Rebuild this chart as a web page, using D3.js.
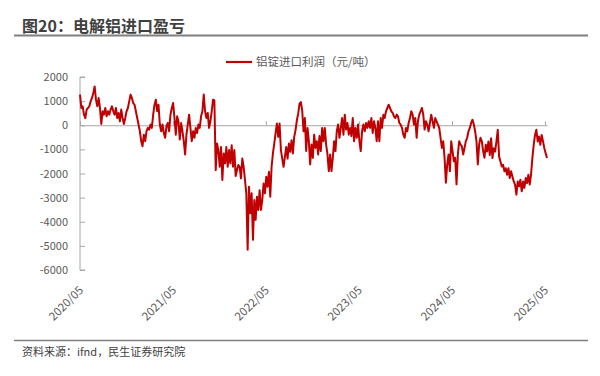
<!DOCTYPE html>
<html>
<head>
<meta charset="utf-8">
<script src="https://cdn.jsdelivr.net/npm/d3@7"></script>
<style>
  body { margin: 0; background: #fff; }
  text { font-family: "Noto Sans CJK SC", "Noto Sans", sans-serif; }
</style>
</head>
<body>
<div id="chart"></div>
<script>
const title = "图20：电解铝进口盈亏";
const seriesName = "铝锭进口利润（元/吨）";
const source = "资料来源：ifnd，民生证券研究院";

const firstDate = "2020-05-01";
const lastDate = "2025-05-09";

const yTicks = [2000, 1000, 0, -1000, -2000, -3000, -4000, -5000, -6000];
const xTickLabels = ["2020/05", "2021/05", "2022/05", "2023/05", "2024/05", "2025/05"];

const profit2020 = [
  1270, 720, 785, 440, 300, 650, 715, 785, 990, 1130,
  1335, 1610, 1060, 785, 1130, 715, 55, 580, 440, 715,
  370, 580, 440, 650, 785, 580, 440, 715, 300, 510,
  165, 650, 300, 55, 300, 580, 715, 990, 1270, 1130,
  920, 850, 580, 300, 30, -250, -660, -870, -390, -660,
  -250, -110, -180, 30, -110, 440, 850, 1060, 580, 850,
  30, -250, 30, -320, -520, -40, 95, -250, 440, 715,
  920
];
const profit2021 = [
  300, -390, 370, 165, -590, 95, -250, -660, -1210, -390,
  30, 440, -110, -660, -250, -520, -110, -320, 30, -110,
  370, 580, 1270, 580, 300, 510, -110, 165, 580, 1060,
  1030, -1860, -760, -1030, -1720, -900, -2270, -1170, -1580, -900,
  -1720, -1030, -1580, -830, -1720, -1030, -2100, -1860, -1650, -1720,
  -2200, -1380, -1720, -2270, -2820, -5160, -2550, -3650, -2820, -4750,
  -3100, -3920, -2960, -3510, -2690, -3510, -3100, -2410, -2820, -2130,
  -2550, -1930, -2960, -1720, -1170, -760, -340, 70, -480, 70,
  -1030, -1380, -1720, -1310, -900, -1380, -760, -1100, -620, -1170,
  -480, -210, 207, 480, 895, 960, 620
];
const profit2023 = [
  -250, 300, -1070, -110, -660, -1620, -800, -1350, -390, -940,
  -660, -1210, -450, -1070, -110, -660, -110, -800, -1210, -1900,
  -1210, -1900, -1350, -660, -1070, -250, 30, -520, -110, 300,
  -390, 440, -180, 95, -390, -110, -450, 300, -660, -110,
  -520, 30, -660, -1070, -250, 30, -250, 95, -110, 165,
  -110, 300, -320, 165, -110, -660, 165, -660, 300, -110,
  440, 300, 580, 715, 850, 715, 580, 510, 370, 300,
  440
];
const profit2024 = [
  370, 95, 30, -110, -390, -520, -110, -250, 95, 300,
  580, 440, 30, 300, -520, 165, 440, 580, 715, 440,
  -180, 165, 30, -250, 95, 440, 165, -110, 300, 165,
  30, -110, -520, -940, -660, -1350, -2380, -1620, -1210, -1900,
  -660, -1070, -1490, -1350, -2450, -1210, -660, -800, -870, -1210,
  -940, -660, -520, -250, -110, 95, 230, 30, -250, -660,
  -1620, -800, -520, -660, -1070, -1350
];
const profit2025 = [
  -810, -1090, -670, -1230, -540, -1360, -950, -1090, -670, -190,
  -1300, -1500, -1710, -1640, -1910, -1780, -2050, -1780, -2190, -1910,
  -2120, -2330, -2460, -2880, -2330, -2530, -2260, -2740, -2330, -2600,
  -2190, -2400, -2050, -2460, -2050, -1360, -810, -400, -190, -670,
  -470, -810, -400, -670, -950, -1160, -1360
];

const profit = [].concat(profit2020, profit2021, profit2023, profit2024, profit2025);

const W = 600, H = 376;
const plot = {left: 80, right: 547, top: 77, bottom: 270};
const red = "#c00000";
const axisGrey = "#a6a6a6";
const textGrey = "#595959";

const svg = d3.select("#chart")
  .append("svg")
  .attr("width", W)
  .attr("height", H);

// =====================
// SCALES
// =====================
const t0 = new Date(firstDate), t1 = new Date(lastDate);
const when = d3.scaleLinear()
  .domain([0, profit.length - 1])
  .range([t0.getTime(), t1.getTime()]);

const data = profit.map((v, i) => ({date: new Date(when(i)), value: v}));

const x = d3.scaleTime()
  .domain([t0, t1])
  .range([plot.left, plot.right]);

const y = d3.scaleLinear()
  .domain([-6000, 2000])
  .range([plot.bottom, plot.top]);

const tickDates = xTickLabels.map(s => d3.timeParse("%Y/%m")(s));

// =====================
// TITLE
// =====================
svg.append("text")
  .attr("x", 22)
  .attr("y", 32)
  .style("font-size", "16px")
  .style("font-weight", "bold")
  .style("fill", "#404040")
  .text(title);

svg.append("line")
  .attr("x1", 14).attr("x2", 588)
  .attr("y1", 35.5).attr("y2", 35.5)
  .attr("stroke", "#7f7f7f")
  .attr("stroke-width", 2);

// =====================
// LEGEND
// =====================
const legend = svg.append("g")
  .attr("transform", "translate(226,62)");

legend.append("line")
  .attr("x1", 0).attr("x2", 26)
  .attr("stroke", red)
  .attr("stroke-width", 2.2);

legend.append("text")
  .attr("x", 30)
  .attr("y", 4)
  .style("font-size", "11.5px")
  .style("fill", textGrey)
  .text(seriesName);

// =====================
// AXES
// =====================
const yAxis = svg.append("g")
  .attr("transform", `translate(${plot.left},0)`)
  .call(d3.axisRight(y).tickValues(yTicks).tickSize(5).tickFormat(""));

yAxis.selectAll("path, line").attr("stroke", axisGrey);
yAxis.select(".domain").attr("d", `M5,${plot.top}H0V${plot.bottom}H5`);

svg.append("g")
  .selectAll("text")
  .data(yTicks)
  .join("text")
  .attr("x", 68)
  .attr("y", d => y(d) + 4)
  .attr("text-anchor", "end")
  .style("font-size", "11px")
  .style("fill", textGrey)
  .text(d => d);

const xAxis = svg.append("g")
  .attr("transform", `translate(0,${y(0)})`)
  .call(d3.axisTop(x).tickValues(tickDates).tickSize(4).tickSizeOuter(0).tickFormat(""));

xAxis.selectAll("path, line").attr("stroke", axisGrey);

svg.append("g")
  .selectAll("text")
  .data(tickDates)
  .join("text")
  .attr("transform", d => `translate(${x(d) + 4},291) rotate(-45)`)
  .attr("text-anchor", "end")
  .style("font-size", "11.5px")
  .style("fill", textGrey)
  .text((d, i) => xTickLabels[i]);

// =====================
// LINE
// =====================
svg.append("path")
  .datum(data)
  .attr("fill", "none")
  .attr("stroke", red)
  .attr("stroke-width", 2)
  .attr("stroke-linejoin", "round")
  .attr("d", d3.line()
    .x(d => x(d.date))
    .y(d => y(d.value)));

// =====================
// SOURCE
// =====================
svg.append("line")
  .attr("x1", 14).attr("x2", 588)
  .attr("y1", 340.5).attr("y2", 340.5)
  .attr("stroke", "#7f7f7f")
  .attr("stroke-width", 1.5);

svg.append("text")
  .attr("x", 22)
  .attr("y", 356)
  .style("font-size", "11px")
  .style("fill", "#404040")
  .text(source);
</script>
</body>
</html>
